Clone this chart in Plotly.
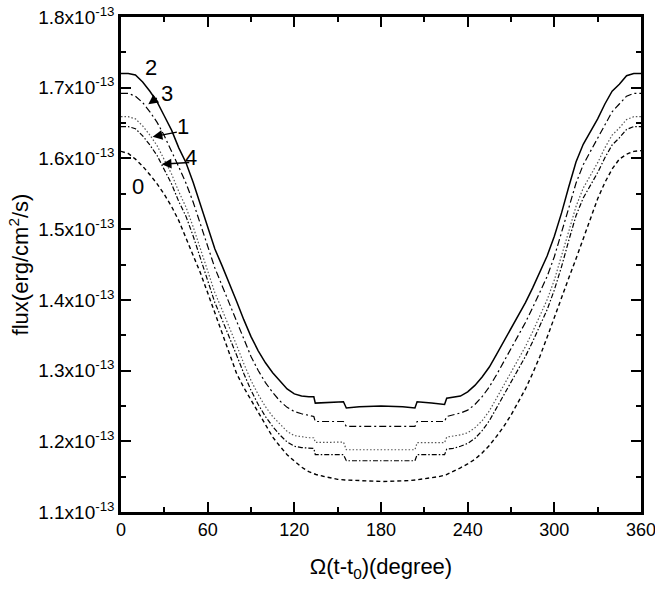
import plotly.graph_objects as go

# angle grid (degrees) for the stepped curves 1-4 and 2
angle_step = [0, 5, 10, 15, 20, 25, 30, 35, 40, 45, 50, 55, 60, 65, 70, 75, 80, 85, 90, 95,
              100, 105, 110, 115, 120, 125, 130, 133.5, 134.5, 145, 154, 156, 165, 180, 195,
              203.5, 205, 215, 224, 225.5, 230, 235, 240, 245, 250, 255, 260, 265, 270, 275,
              280, 285, 290, 295, 300, 305, 310, 315, 320, 325, 330, 335, 340, 345, 350, 355, 360]

# flux in units of 1e-13 erg/cm^2/s
flux_2 = [1.720, 1.720, 1.718, 1.708, 1.695, 1.680, 1.660, 1.640, 1.615, 1.594, 1.566, 1.535,
          1.505, 1.472, 1.448, 1.424, 1.398, 1.372, 1.348, 1.328, 1.311, 1.297, 1.285, 1.274,
          1.267, 1.264, 1.263, 1.263, 1.254, 1.255, 1.256, 1.247, 1.249, 1.250, 1.249, 1.247,
          1.256, 1.254, 1.252, 1.261, 1.262, 1.264, 1.270, 1.279, 1.291, 1.305, 1.323, 1.341,
          1.360, 1.377, 1.396, 1.417, 1.440, 1.462, 1.490, 1.523, 1.560, 1.595, 1.620, 1.638,
          1.656, 1.677, 1.695, 1.705, 1.717, 1.720, 1.720]

flux_3 = [1.692, 1.692, 1.688, 1.679, 1.666, 1.651, 1.632, 1.611, 1.588, 1.565, 1.538, 1.507,
          1.477, 1.445, 1.420, 1.395, 1.369, 1.344, 1.320, 1.300, 1.283, 1.269, 1.257, 1.248,
          1.242, 1.239, 1.236, 1.235, 1.228, 1.228, 1.228, 1.221, 1.221, 1.222, 1.221, 1.221,
          1.228, 1.228, 1.228, 1.235, 1.237, 1.240, 1.244, 1.252, 1.263, 1.277, 1.294, 1.312,
          1.331, 1.349, 1.368, 1.389, 1.411, 1.433, 1.461, 1.494, 1.530, 1.565, 1.591, 1.610,
          1.628, 1.648, 1.666, 1.677, 1.688, 1.692, 1.692]

flux_1 = [1.659, 1.659, 1.656, 1.646, 1.633, 1.618, 1.598, 1.578, 1.553, 1.531, 1.503, 1.472,
          1.442, 1.410, 1.386, 1.362, 1.336, 1.310, 1.286, 1.266, 1.249, 1.235, 1.224, 1.214,
          1.208, 1.206, 1.205, 1.205, 1.1985, 1.1985, 1.199, 1.188, 1.188, 1.1885, 1.188, 1.188,
          1.198, 1.198, 1.198, 1.206, 1.207, 1.209, 1.212, 1.219, 1.229, 1.243, 1.261, 1.279,
          1.298, 1.315, 1.334, 1.355, 1.378, 1.400, 1.428, 1.461, 1.497, 1.532, 1.558, 1.576,
          1.594, 1.615, 1.633, 1.643, 1.655, 1.659, 1.659]

flux_4 = [1.645, 1.645, 1.642, 1.632, 1.619, 1.604, 1.584, 1.564, 1.539, 1.518, 1.490, 1.459,
          1.429, 1.396, 1.372, 1.348, 1.322, 1.296, 1.272, 1.252, 1.235, 1.221, 1.209, 1.199,
          1.193, 1.191, 1.190, 1.190, 1.181, 1.181, 1.181, 1.1725, 1.1725, 1.173, 1.1725, 1.1725,
          1.181, 1.181, 1.181, 1.189, 1.190, 1.193, 1.197, 1.204, 1.215, 1.229, 1.247, 1.265,
          1.284, 1.301, 1.320, 1.341, 1.364, 1.386, 1.414, 1.447, 1.484, 1.519, 1.544, 1.562,
          1.580, 1.601, 1.619, 1.629, 1.641, 1.645, 1.645]

# smooth curve 0
angle_smooth = list(range(0, 361, 5))
flux_0 = [1.610, 1.607, 1.599, 1.589, 1.577, 1.564, 1.549, 1.532, 1.512, 1.488, 1.464, 1.438,
          1.410, 1.382, 1.352, 1.323, 1.296, 1.276, 1.258, 1.240, 1.222, 1.206, 1.193, 1.181,
          1.172, 1.1635, 1.157, 1.153, 1.1505, 1.148, 1.1462, 1.1453, 1.1447, 1.1442, 1.1437,
          1.1434, 1.1432, 1.1433, 1.1435, 1.1439, 1.1445, 1.1456, 1.1468, 1.148, 1.150, 1.1525,
          1.157, 1.1625, 1.168, 1.1745, 1.1835, 1.194, 1.207, 1.221, 1.237, 1.255, 1.274, 1.296,
          1.320, 1.347, 1.376, 1.405, 1.431, 1.458, 1.487, 1.515, 1.543, 1.566, 1.585, 1.599,
          1.606, 1.610, 1.611]

x_ticks = [0, 60, 120, 180, 240, 300, 360]
y_ticks = [1.1, 1.2, 1.3, 1.4, 1.5, 1.6, 1.7, 1.8]
y_ticktext = ["%.1fx10<sup>-13</sup>" % v for v in y_ticks]

curve_labels = ["2", "3", "1", "4", "0"]
label_x = [21, 31.6, 42.7, 48.3, 12]
label_y = [1.728, 1.692, 1.645, 1.602, 1.560]
# arrows: head (x, y) and tail (x, y)
arrow_head_x = [18.9, 21.9, 28.2]
arrow_head_y = [1.6767, 1.6305, 1.5919]
arrow_tail_x = [25.8, 39.7, 48.3]
arrow_tail_y = [1.687, 1.6376, 1.5943]

FONT = "Liberation Sans, Arial, sans-serif"

fig = go.Figure()
fig.add_trace(go.Scatter(x=angle_smooth, y=flux_0, mode="lines",
                         line=dict(color="black", width=1.4, dash="4px,3px")))
fig.add_trace(go.Scatter(x=angle_step, y=flux_4, mode="lines",
                         line=dict(color="black", width=1.2, dash="5px,2px,1.5px,2px")))
fig.add_trace(go.Scatter(x=angle_step, y=flux_1, mode="lines",
                         line=dict(color="#555555", width=1.2, dash="1.5px,2px")))
fig.add_trace(go.Scatter(x=angle_step, y=flux_3, mode="lines",
                         line=dict(color="black", width=1.2, dash="7px,3px,2px,3px")))
fig.add_trace(go.Scatter(x=angle_step, y=flux_2, mode="lines",
                         line=dict(color="black", width=1.5)))

annotations = []
for t, lx, ly in zip(curve_labels, label_x, label_y):
    annotations.append(dict(x=lx, y=ly, xref="x", yref="y", text=t, showarrow=False,
                            font=dict(family=FONT, size=22, color="black")))
for hx, hy, tx, ty in zip(arrow_head_x, arrow_head_y, arrow_tail_x, arrow_tail_y):
    annotations.append(dict(x=hx, y=hy, xref="x", yref="y", ax=tx, ay=ty, axref="x", ayref="y",
                            text="", showarrow=True, arrowhead=2, arrowsize=1.3,
                            arrowwidth=1.5, arrowcolor="black"))

fig.update_layout(
    width=655, height=591,
    margin=dict(l=121, r=14, t=17, b=79),
    plot_bgcolor="white", paper_bgcolor="white",
    showlegend=False,
    font=dict(family=FONT, color="black", size=18),
    annotations=annotations,
)
fig.update_xaxes(
    range=[0, 360], tickvals=x_ticks, ticks="inside", ticklen=10, tickwidth=2,
    tickcolor="black", showline=True, linewidth=2.5, linecolor="black", mirror="ticks",
    showgrid=False, zeroline=False, tickfont=dict(size=18), ticklabeloverflow="allow",
    automargin=False,
    minor=dict(dtick=30, ticks="inside", ticklen=5, tickwidth=2, tickcolor="black", showgrid=False),
    title=dict(text="\u03a9(t-t<sub>0</sub>)(degree)", font=dict(size=22), standoff=20),
)
fig.update_yaxes(
    range=[1.1, 1.8], tickvals=y_ticks, ticktext=y_ticktext, ticks="inside", ticklen=10,
    tickwidth=2, tickcolor="black", showline=True, linewidth=2.5, linecolor="black",
    mirror="ticks", showgrid=False, zeroline=False, tickfont=dict(size=19),
    ticklabeloverflow="allow", automargin=False,
    minor=dict(dtick=0.05, ticks="inside", ticklen=5, tickwidth=2, tickcolor="black", showgrid=False),
    title=dict(text="flux(erg/cm<sup>2</sup>/s)", font=dict(size=22), standoff=4),
)

fig.write_html("out.html")
